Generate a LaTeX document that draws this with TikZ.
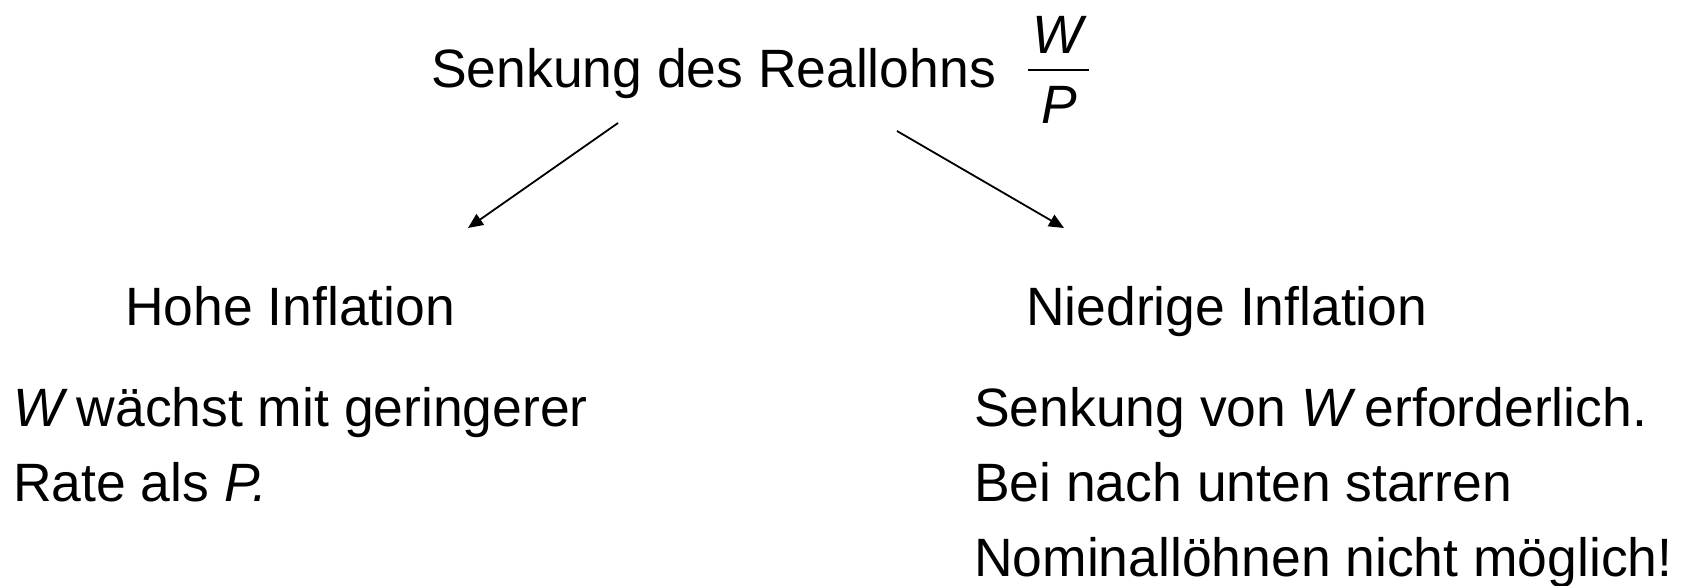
\documentclass[tikz,border=0pt]{standalone}
\usepackage{fontspec}
\setmainfont[FakeStretch=0.99]{Liberation Sans}
\usetikzlibrary{arrows.meta}
% italic variable followed by a tightened word space
\newcommand{\varW}{\textit{W}\kern-6pt\ }
\begin{document}
\begin{tikzpicture}[x=1pt,y=-1pt,
  txt/.style={anchor=base west, inner sep=0pt, font=\fontsize{54}{75}\selectfont},
  arr/.style={line width=1.8pt, -{Triangle[length=15pt,width=13pt]}}]
\useasboundingbox (0,0) rectangle (1682,586);

% heading with the fraction W/P
\node[txt] (title) at (431,88) {Senkung des Reallohns};
\node[txt, anchor=base] (wnum) at (1058,54) {\itshape W};
\node[txt, anchor=base] (pden) at (1059,123) {\itshape P};
\draw[line width=1.5pt] (1028,70) -- (1089,70);

% the two cases
\node[txt] (hohe) at (125,325) {Hohe Inflation};
\node[txt] (niedrig) at (1026,325) {Niedrige Inflation};

\node[txt] (h1) at (13,426) {\varW wächst mit geringerer};
\node[txt] (h2) at (13,501) {Rate als \textit{P.}};

\node[txt] (n1) at (974,426) {Senkung von \varW erforderlich.};
\node[txt] (n2) at (974,501) {Bei nach unten starren};
\node[txt] (n3) at (974,576) {Nominallöhnen nicht möglich!};

% branching arrows
\coordinate (ls) at (618,123);
\coordinate (le) at (468,228);
\coordinate (rs) at (897,131);
\coordinate (re) at (1064,228);
\draw[arr] (ls) -- (le);
\draw[arr] (rs) -- (re);
\end{tikzpicture}
\end{document}
